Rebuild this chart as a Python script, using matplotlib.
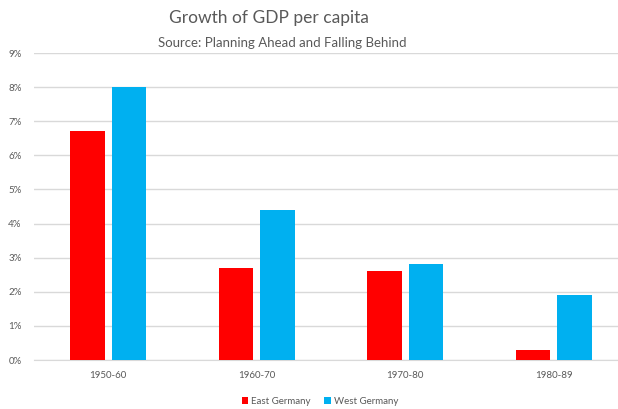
import matplotlib
matplotlib.use("Agg")
import matplotlib.pyplot as plt
import numpy as np
from matplotlib.ticker import PercentFormatter

categories = ["1950-60", "1960-70", "1970-80", "1980-89"]
east = [6.7, 2.7, 2.6, 0.3]
west = [8.0, 4.4, 2.8, 1.9]
series_names = ["East Germany", "West Germany"]

plt.rcParams['font.family'] = ['Lato', 'DejaVu Sans']

fig = plt.figure(figsize=(6.18, 4.09), dpi=100)
ax = fig.add_axes([34/618, 49/409, 594/618, 307/409])

x = np.arange(len(categories))
w = 0.232
off = 0.139
ax.bar(x - off, east, w, color="#FF0000", label=series_names[0], zorder=3)
ax.bar(x + off, west, w, color="#00B0F0", label=series_names[1], zorder=3)

ax.set_xlim(-0.5, len(categories) - 0.5)
ax.set_ylim(0, 9)
ax.set_yticks(np.arange(0, 10, 1))
ax.yaxis.set_major_formatter(PercentFormatter(decimals=0))
ax.set_xticks(x)
ax.set_xticklabels(categories)
ax.grid(axis='y', color="#D9D9D9", linewidth=1, zorder=0)
for s in ["top", "right", "left"]:
    ax.spines[s].set_visible(False)
ax.spines["bottom"].set_color("#D9D9D9")
ax.tick_params(axis='both', length=0, labelsize=7, labelcolor="#595959")
ax.tick_params(axis='x', pad=8)
ax.tick_params(axis='y', pad=9)

fig.text(269/618, 1 - 18/409, "Growth of GDP per capita", ha='center', va='center',
         fontsize=12.5, color="#595959")
fig.text(282.5/618, 1 - 43/409, "Source: Planning Ahead and Falling Behind", ha='center',
         va='center', fontsize=9.5, color="#595959")

leg = fig.legend(loc='center', bbox_to_anchor=(320/618, 1 - 401/409), ncol=2, frameon=False,
                 fontsize=7, handlelength=0.7, handleheight=0.7, handletextpad=0.3,
                 columnspacing=1.4)
for t in leg.get_texts():
    t.set_color("#595959")

fig.savefig("out.png", dpi=100)
